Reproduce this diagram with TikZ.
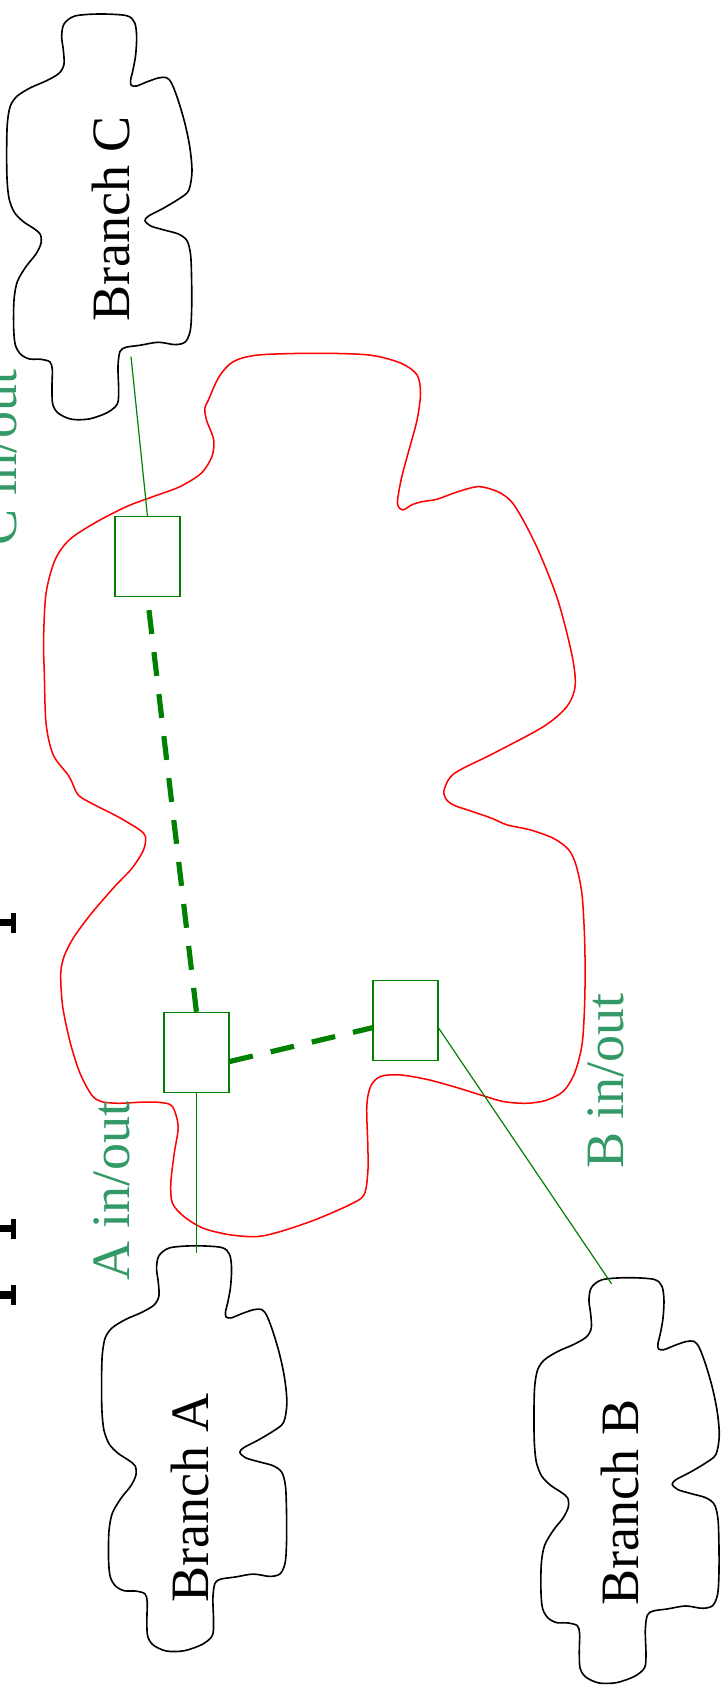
\documentclass[tikz,border=0pt]{standalone}
\usepackage{fontspec}
\setmainfont{Liberation Serif}
\usetikzlibrary{calc}
\definecolor{boxgreen}{RGB}{0,128,0}
\definecolor{labelgreen}{RGB}{51,153,102}
\tikzset{
  cloudline/.style={draw=black, line width=1.5pt},
  redcloud/.style={draw=red, line width=1.4pt},
  portbox/.style={draw=boxgreen, fill=white, line width=1.3pt, minimum width=60pt, minimum height=74pt, inner sep=0pt},
  thinlink/.style={draw=boxgreen, line width=1.1pt},
  trunk/.style={draw=boxgreen, line width=4.8pt, dash pattern=on 22.2pt off 16.9pt},
  branchlabel/.style={rotate=90, anchor=base, inner sep=0pt, font=\fontsize{50}{60}\selectfont},
  portlabel/.style={rotate=90, anchor=base, inner sep=0pt, text=labelgreen, font=\fontsize{50}{60}\selectfont},
  branchcloud/.pic={
    \draw[cloudline] plot[smooth cycle, tension=0.5] coordinates {
      (300,42) (380,47) (404,68) (410,110) (407,165) (399,210) (392,240) (394,256)
      (410,258) (440,246) (475,234) (500,233) (516,252) (536,305) (556,375) (570,445)
      (576,515) (566,572) (535,598) (488,626) (446,648) (435,662) (452,678) (492,690)
      (535,702) (561,722) (572,765) (575,845) (575,930) (571,992) (556,1026) (525,1034)
      (475,1027) (420,1036) (378,1042) (360,1055) (354,1100) (356,1170) (352,1212)
      (322,1238) (268,1257) (215,1258) (175,1240) (158,1212) (156,1160) (157,1110)
      (150,1086) (122,1078) (88,1077) (62,1063) (46,1035) (41,985) (42,900) (52,845)
      (78,800) (108,762) (123,730) (121,703) (102,686) (70,665) (43,637) (27,595)
      (21,535) (20,450) (22,370) (31,318) (52,288) (92,263) (140,242) (177,220)
      (192,193) (190,150) (185,110) (192,72) (225,48)};
  }
}
\begin{document}
\begin{tikzpicture}[x=1pt, y=-1pt]
\fill[white] (0,0) rectangle (668,1568);
\useasboundingbox (0,0) rectangle (668,1568);

% provider network (red cloud)
\draw[redcloud] plot[smooth cycle, tension=0.5] coordinates {
  (192.8,370) (202.7,348.4) (215.9,334.5) (239,328.4) (291.8,326.8) (341.3,328.4)
  (371,336) (385.8,346.9) (389,363.8) (385.8,388.5) (377.5,419.3) (371,444)
  (367.7,465.6) (372.6,471.7) (381,467) (390.8,464) (404,461.9) (423.8,454.8)
  (443.6,450.2) (463.3,456.3) (476.6,468.7) (496.4,505.6) (516,555) (529.4,607.4)
  (532,635) (524.4,653.6) (503,672) (456.8,696.8) (420.5,715.3) (411,730)
  (412.2,738.5) (419.3,744.6) (437.2,750.8) (455,757) (469.2,763.1) (490.5,767.7)
  (512,775.5) (526.2,786.2) (533.3,801.7) (538.6,829.4) (541,875.7) (541,922)
  (538.6,965) (531.5,992.8) (520.8,1009.8) (504.8,1018) (487,1020.6) (465.6,1019)
  (444.3,1012.8) (419.3,1005.1) (394.4,998.4) (369.5,994.3) (351.7,995.9)
  (342.8,1005.1) (339.3,1023.6) (340.3,1060.6) (340.3,1083.8) (336.8,1105.3)
  (323.2,1114.6) (291.2,1128.5) (259.2,1139.3) (237.8,1143.9) (212.9,1142.3)
  (188,1136.2) (170.2,1125.4) (159.5,1113) (158,1094.5) (161.2,1066.8)
  (164.8,1042.1) (159.5,1023.6) (148.8,1019.9) (131,1019.6) (109.6,1020.6)
  (93.6,1019) (84.7,1012.8) (74,992.8) (65.1,965) (58,931.1) (56.2,900.3)
  (59.8,883.4) (68.7,866.4) (84.7,844.8) (106,820.2) (122.1,803.2) (132.8,786.2)
  (134.6,773.9) (129.2,767.7) (116.8,760) (106,753.9) (84.7,743.1) (72,735)
  (64,718.4) (49.2,698.3) (42.6,669) (41,622.8) (40.3,592) (42.6,548.8) (50.9,518)
  (64,499.5) (87.2,484) (116.9,468.7) (143.3,458.8) (166.4,450.2) (186.2,437.8)
  (196,422.4) (197.7,407) (191,388.5) (189.5,377.7)};

% branch clouds
\begin{scope}[shift={(0,0)}, scale=0.3083]
  \pic[transform shape] {branchcloud};
\end{scope}
\begin{scope}[shift={(87.8,1139.5)}, scale=0.3083]
  \pic[transform shape] {branchcloud};
\end{scope}
\begin{scope}[shift={(487.8,1169)}, scale=0.3083]
  \pic[transform shape] {branchcloud};
\end{scope}

\node[branchlabel] (labC) at (120,202.7) {Branch C};
\node[branchlabel] (labA) at (193,1386) {Branch A};
\node[branchlabel] (labB) at (591,1390) {Branch B};

% cut-off fragments at the left edge
\foreach \c in {853.5,1136.5,1198} {
  \fill (0,\c-3.5) rectangle (12,\c+3.5);
  \fill (10.5,\c-9.25) rectangle (14.5,\c+9.25);
}

% ports
\node[portbox] (C) at (136.4,514.9) {};
\node[portbox] (A) at (181.7,973.6) {};
\node[portbox] (B) at (375.2,944.2) {};

\coordinate (Cend) at (121.2,329.9);
\coordinate (Aend) at (181.7,1159.3);
\coordinate (Bend) at (565.8,1187.7);

% connectors
\draw[thinlink] (Cend) -- (C.north);
\draw[thinlink] (A.south) -- (Aend);
\draw[thinlink] ($(B.east)+(0,7)$) -- (Bend);
\draw[trunk] (A.north) -- (C.south);
\draw[trunk] ($(A.east)+(0,8.4)$) -- ($(B.west)+(0,6.5)$);

% port labels
\node[portlabel] (lC) at (15.5,423) {C in/out};
\node[portlabel] (lA) at (119.5,1102) {A in/out};
\node[portlabel] (lB) at (577,1000) {B in/out};
\end{tikzpicture}
\end{document}
